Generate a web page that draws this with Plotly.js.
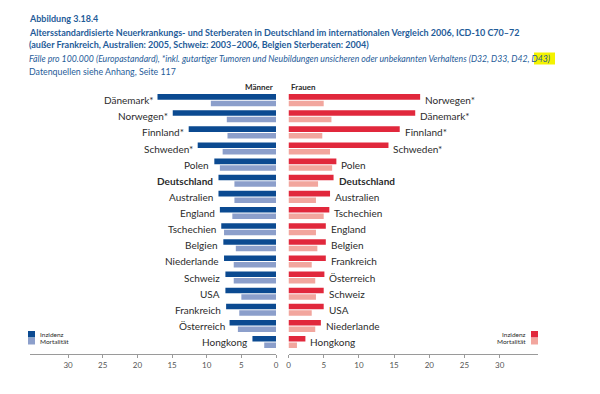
<!DOCTYPE html>
<html>
<head>
<meta charset="utf-8">
<script src="https://cdn.plot.ly/plotly-3.0.1.min.js"></script>
<style>html,body{margin:0;padding:0;background:#fff;}#chart{width:600px;height:394px;}</style>
</head>
<body>
<div id="chart"></div>
<script>
// Männer (left), top to bottom
const menCountries = ["Dänemark*","Norwegen*","Finnland*","Schweden*","Polen","Deutschland","Australien","England","Tschechien","Belgien","Niederlande","Schweiz","USA","Frankreich","Österreich","Hongkong"];
const menIncidence = [17.1,14.9,12.6,11.3,8.9,8.3,8.3,8.1,7.9,7.6,7.5,7.3,7.3,7.2,6.7,3.4];
const menMortality = [9.4,7.1,7.0,7.7,8.1,6.0,6.0,6.3,7.5,5.8,6.1,6.1,5.0,5.3,5.5,1.7];
// Frauen (right), top to bottom
const womenCountries = ["Norwegen*","Dänemark*","Finnland*","Schweden*","Polen","Deutschland","Australien","Tschechien","England","Belgien","Frankreich","Österreich","Schweiz","USA","Niederlande","Hongkong"];
const womenIncidence = [18.7,18.0,15.8,14.2,6.8,6.4,5.9,5.8,5.3,5.3,5.3,5.1,5.0,5.0,4.6,2.4];
const womenMortality = [5.0,6.1,4.8,5.9,6.2,4.2,3.9,5.0,3.9,4.1,3.3,3.8,3.9,3.3,3.8,1.2];
const tickValues = [0,5,10,15,20,25,30];
const tickLabels = ["0","5","10","15","20","25","30"];

const C = {mInc:"#0b4a91", mMort:"#8c9fcb", wInc:"#e1283c", wMort:"#f2a69e", text:"#2b2b2b", head:"#1f5c99", axis:"#9a9a9a"};
const FONT = "Lato, 'Open Sans', sans-serif";
const W = 600, H = 394;
const px = x => x / W;
const py = y => 1 - y / H;

const traces = [
  {type:"bar", orientation:"h", name:"Inzidenz", x:menIncidence, y:menCountries, xaxis:"x", yaxis:"y", marker:{color:C.mInc}, hoverinfo:"x+y"},
  {type:"bar", orientation:"h", name:"Mortalität", x:menMortality, y:menCountries, xaxis:"x", yaxis:"y", marker:{color:C.mMort}, hoverinfo:"x+y"},
  {type:"bar", orientation:"h", name:"Inzidenz", x:womenIncidence, y:womenCountries, xaxis:"x2", yaxis:"y2", marker:{color:C.wInc}, hoverinfo:"x+y"},
  {type:"bar", orientation:"h", name:"Mortalität", x:womenMortality, y:womenCountries, xaxis:"x2", yaxis:"y2", marker:{color:C.wMort}, hoverinfo:"x+y"}
];

const yDomain = [(H - 353.5) / H, (H - 85) / H];
const yRange = [15.71, -0.94];

const annotations = [];
menCountries.forEach((c, i) => {
  const bold = c === "Deutschland";
  annotations.push({xref:"x", yref:"y", x:Math.max(menIncidence[i], menMortality[i]), y:c, text: bold ? "<b>"+c+"</b>" : c,
    showarrow:false, xanchor:"right", yanchor:"middle", xshift:-3, font:{family:FONT, size:10, color:C.text}});
});
womenCountries.forEach((c, i) => {
  const bold = c === "Deutschland";
  annotations.push({xref:"x2", yref:"y2", x:Math.max(womenIncidence[i], womenMortality[i]), y:c, text: bold ? "<b>"+c+"</b>" : c,
    showarrow:false, xanchor:"left", yanchor:"middle", xshift:3, font:{family:FONT, size:10, color:C.text}});
});

function txt(x, y, t, size, opts) {
  return Object.assign({xref:"paper", yref:"paper", x:px(x), y:py(y), text:t, showarrow:false, xanchor:"left", yanchor:"middle",
    font:{family:FONT, size:size, color:C.head}}, opts || {});
}
annotations.push(txt(27, 19, "<b>Abbildung 3.18.4</b>", 9));
annotations.push(txt(27, 32, "<b>Altersstandardisierte Neuerkrankungs- und Sterberaten in Deutschland im internationalen Vergleich 2006, ICD-10 C70–72</b>", 9));
annotations.push(txt(27, 45, "<b>(außer Frankreich, Australien: 2005, Schweiz: 2003–2006, Belgien Sterberaten: 2004)</b>", 9));
annotations.push(txt(27, 58.5, "<i>Fälle pro 100.000 (Europastandard), *inkl. gutartiger Tumoren und Neubildungen unsicheren oder unbekannten Verhaltens (D32, D33, D42, D43)</i>", 8.7));
annotations.push(txt(27, 71, "Datenquellen siehe Anhang, Seite 117", 8.8));

annotations.push(txt(275, 87, "<b>Männer</b>", 8, {xanchor:"right", font:{family:FONT, size:8, color:C.text}}));
annotations.push(txt(289, 87, "<b>Frauen</b>", 8, {xanchor:"left", font:{family:FONT, size:8, color:C.text}}));

// legends
annotations.push(txt(38, 334, "Inzidenz", 6.5, {font:{family:FONT, size:6.5, color:C.text}}));
annotations.push(txt(38, 341, "Mortalität", 6.5, {font:{family:FONT, size:6.5, color:C.text}}));
annotations.push(txt(528, 334, "Inzidenz", 6.5, {xanchor:"right", font:{family:FONT, size:6.5, color:C.text}}));
annotations.push(txt(528, 341, "Mortalität", 6.5, {xanchor:"right", font:{family:FONT, size:6.5, color:C.text}}));

const shapes = [
  {type:"rect", xref:"paper", yref:"paper", x0:px(534), x1:px(555), y0:py(52.5), y1:py(64.5), fillcolor:"#f4f200", line:{width:0}, layer:"below"},
  {type:"rect", xref:"paper", yref:"paper", x0:px(28), x1:px(35), y0:py(331), y1:py(337.5), fillcolor:C.mInc, line:{width:0}},
  {type:"rect", xref:"paper", yref:"paper", x0:px(28), x1:px(35), y0:py(338), y1:py(344.5), fillcolor:C.mMort, line:{width:0}},
  {type:"rect", xref:"paper", yref:"paper", x0:px(531), x1:px(538), y0:py(331), y1:py(337.5), fillcolor:C.wInc, line:{width:0}},
  {type:"rect", xref:"paper", yref:"paper", x0:px(531), x1:px(538), y0:py(338), y1:py(344.5), fillcolor:C.wMort, line:{width:0}}
];

const xCommon = {showgrid:false, zeroline:false, showline:true, linecolor:C.axis, linewidth:1.5, ticks:"outside", ticklen:3, tickwidth:1,
  tickcolor:C.axis, tickvals:tickValues, ticktext:tickLabels, tickfont:{family:FONT, size:8, color:"#555"}, fixedrange:true};
const yCommon = {visible:false, type:"category", domain:yDomain, range:yRange, fixedrange:true};

const layout = {
  width:W, height:H, margin:{l:0, r:0, t:0, b:0}, paper_bgcolor:"#fff", plot_bgcolor:"rgba(0,0,0,0)",
  showlegend:false, barmode:"group", bargap:0.19, bargroupgap:0.15,
  xaxis:Object.assign({}, xCommon, {domain:[px(30), px(276)], range:[35.5, 0], anchor:"y"}),
  xaxis2:Object.assign({}, xCommon, {domain:[px(288.5), px(538)], range:[0, 35.44], anchor:"y2"}),
  yaxis:Object.assign({}, yCommon, {anchor:"x", categoryarray:menCountries, categoryorder:"array"}),
  yaxis2:Object.assign({}, yCommon, {anchor:"x2", categoryarray:womenCountries, categoryorder:"array"}),
  annotations:annotations, shapes:shapes
};

Plotly.newPlot("chart", traces, layout, {displayModeBar:false, staticPlot:true});
</script>
</body>
</html>
